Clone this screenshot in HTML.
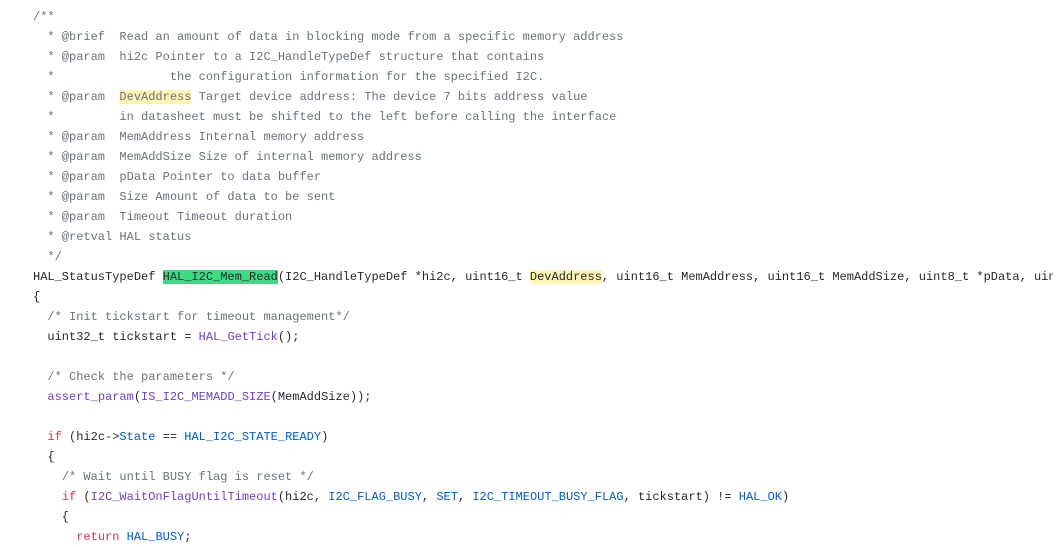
<!DOCTYPE html>
<html><head><meta charset="utf-8"><style>
html,body{margin:0;padding:0;background:#fff;width:1057px;height:539px;overflow:hidden}
pre{margin:0;position:absolute;left:33px;top:7px;width:1020px;overflow:hidden;font-family:"Liberation Mono",monospace;font-size:12px;line-height:20px;color:#24292e;white-space:pre}
.c{color:#6a737d}.k{color:#d73a49}.f{color:#6f42c1}.n{color:#005cc5}
.y{background:#fff5b1}.g{background:#3ddc84;color:#24292e}
</style></head><body>
<pre><span class="c">/**
  * @brief  Read an amount of data in blocking mode from a specific memory address
  * @param  hi2c Pointer to a I2C_HandleTypeDef structure that contains
  *                the configuration information for the specified I2C.
  * @param  <span class="y">DevAddress</span> Target device address: The device 7 bits address value
  *         in datasheet must be shifted to the left before calling the interface
  * @param  MemAddress Internal memory address
  * @param  MemAddSize Size of internal memory address
  * @param  pData Pointer to data buffer
  * @param  Size Amount of data to be sent
  * @param  Timeout Timeout duration
  * @retval HAL status
  */</span>
HAL_StatusTypeDef <span class="g">HAL_I2C_Mem_Read</span>(I2C_HandleTypeDef *hi2c, uint16_t <span class="y">DevAddress</span>, uint16_t MemAddress, uint16_t MemAddSize, uint8_t *pData, uin
{
  <span class="c">/* Init tickstart for timeout management*/</span>
  uint32_t tickstart = <span class="f">HAL_GetTick</span>();

  <span class="c">/* Check the parameters */</span>
  <span class="f">assert_param</span>(<span class="f">IS_I2C_MEMADD_SIZE</span>(MemAddSize));

  <span class="k">if</span> (hi2c-&gt;<span class="n">State</span> == <span class="n">HAL_I2C_STATE_READY</span>)
  {
    <span class="c">/* Wait until BUSY flag is reset */</span>
    <span class="k">if</span> (<span class="f">I2C_WaitOnFlagUntilTimeout</span>(hi2c, <span class="n">I2C_FLAG_BUSY</span>, <span class="n">SET</span>, <span class="n">I2C_TIMEOUT_BUSY_FLAG</span>, tickstart) != <span class="n">HAL_OK</span>)
    {
      <span class="k">return</span> <span class="n">HAL_BUSY</span>;</pre>
</body></html>
